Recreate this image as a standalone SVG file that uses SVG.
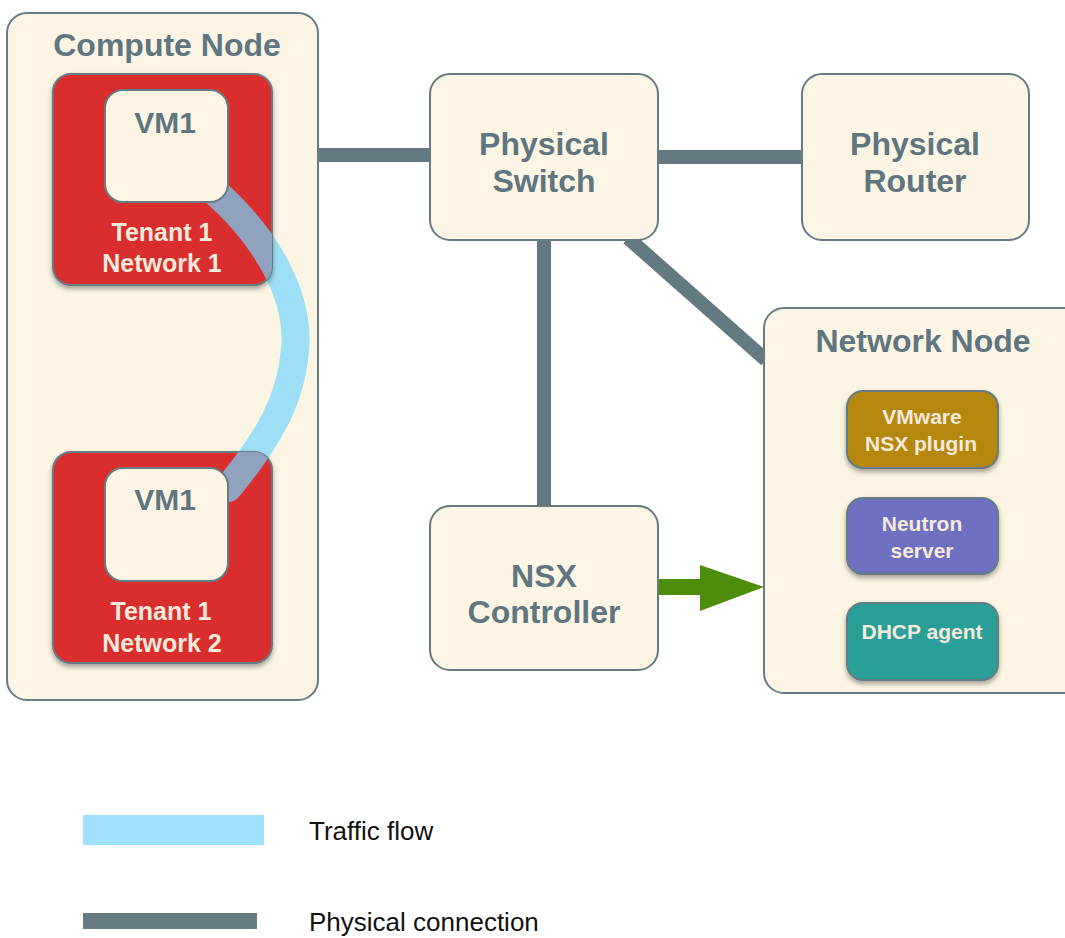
<svg xmlns="http://www.w3.org/2000/svg" width="1065" height="938" viewBox="0 0 1065 938">
<style>
.node{fill:#fcf5e3;stroke:#667c85;stroke-width:2}
.title{font-family:"Liberation Sans",Arial,sans-serif;font-weight:bold;fill:#5e7681;text-anchor:middle}
.light{font-family:"Liberation Sans",Arial,sans-serif;font-weight:bold;fill:#f5eadb;text-anchor:middle}
.phys{stroke:#637a82;stroke-width:14;fill:none}
.legend{font-family:"Liberation Sans",Arial,sans-serif;font-size:26px;fill:#111}
</style>
<defs>
<filter id="sh" x="-20%" y="-20%" width="140%" height="140%">
<feDropShadow dx="0" dy="3" stdDeviation="2.5" flood-color="#000" flood-opacity="0.35"/>
</filter>
<clipPath id="redclip">
<rect x="53" y="74" width="219" height="211" rx="18"/>
<rect x="53" y="452" width="219" height="211" rx="18"/>
</clipPath>
</defs>
<g id="connectors">
<line class="phys" x1="318" y1="155" x2="431" y2="155"/>
<line class="phys" x1="657" y1="157" x2="803" y2="157"/>
<line class="phys" x1="544" y1="239" x2="544" y2="507"/>
<line class="phys" x1="628" y1="238" x2="766" y2="360"/>
<g id="arrow">
<rect x="658" y="579" width="44" height="16" fill="#4e8c0c"/>
<polygon points="700,565 764,587 700,611" fill="#4e8c0c"/>
</g>
</g>
<g id="compute-node">
<rect class="node" x="7" y="13" width="311" height="687" rx="20"/>
<text class="title" x="167" y="56" font-size="32">Compute Node</text>
</g>
<g id="traffic-flow-under">
<path d="M213,190 C270,240 300,300 295,350 C291,400 268,440 228,488" stroke="#9ddff6" stroke-width="28" fill="none" stroke-linecap="round"/>
</g>
<g id="tenant1-network1">
<rect x="53" y="74" width="219" height="211" rx="18" fill="#da2f2f" stroke="#667c85" stroke-width="2" filter="url(#sh)"/>
<text class="light" x="162" y="241" font-size="25">Tenant 1</text>
<text class="light" x="162" y="272" font-size="25">Network 1</text>
</g>
<g id="tenant1-network2">
<rect x="53" y="452" width="219" height="211" rx="18" fill="#da2f2f" stroke="#667c85" stroke-width="2" filter="url(#sh)"/>
<text class="light" x="161" y="620" font-size="25">Tenant 1</text>
<text class="light" x="162" y="652" font-size="25">Network 2</text>
</g>
<g id="traffic-flow-over" clip-path="url(#redclip)">
<path d="M213,190 C270,240 300,300 295,350 C291,400 268,440 228,488" stroke="#8fa3bf" stroke-width="28" fill="none" stroke-linecap="round"/>
</g>
<g id="vm1-top">
<rect class="node" x="105" y="90" width="123" height="112" rx="18"/>
<text class="title" x="165" y="133" font-size="30">VM1</text>
</g>
<g id="vm1-bottom">
<rect class="node" x="105" y="468" width="123" height="113" rx="18"/>
<text class="title" x="165" y="510" font-size="30">VM1</text>
</g>
<g id="physical-switch">
<rect class="node" x="430" y="74" width="228" height="166" rx="20"/>
<text class="title" x="544" y="155" font-size="32">Physical</text>
<text class="title" x="544" y="192" font-size="32">Switch</text>
</g>
<g id="physical-router">
<rect class="node" x="802" y="74" width="227" height="166" rx="20"/>
<text class="title" x="915" y="155" font-size="32">Physical</text>
<text class="title" x="915" y="192" font-size="32">Router</text>
</g>
<g id="nsx-controller">
<rect class="node" x="430" y="506" width="228" height="164" rx="20"/>
<text class="title" x="544" y="587" font-size="32">NSX</text>
<text class="title" x="544" y="623" font-size="32">Controller</text>
</g>
<g id="network-node">
<rect class="node" x="764" y="308" width="320" height="385" rx="20"/>
<text class="title" x="923" y="352" font-size="32">Network Node</text>
</g>
<g id="vmware-nsx-plugin">
<rect x="847" y="391" width="151" height="77" rx="16" fill="#b5870a" stroke="#667c85" stroke-width="2" filter="url(#sh)"/>
<text class="light" x="922" y="424" font-size="21">VMware</text>
<text class="light" x="921" y="451" font-size="21">NSX plugin</text>
</g>
<g id="neutron-server">
<rect x="847" y="498" width="151" height="76" rx="16" fill="#6e70c2" stroke="#667c85" stroke-width="2" filter="url(#sh)"/>
<text class="light" x="922" y="531" font-size="21">Neutron</text>
<text class="light" x="922" y="558" font-size="21">server</text>
</g>
<g id="dhcp-agent">
<rect x="847" y="603" width="151" height="77" rx="16" fill="#2a9f97" stroke="#667c85" stroke-width="2" filter="url(#sh)"/>
<text class="light" x="922" y="639" font-size="21">DHCP agent</text>
</g>
<g id="legend">
<rect x="83" y="815" width="181" height="30" fill="#9fe1fd"/>
<text class="legend" x="309" y="840">Traffic flow</text>
<rect x="83" y="913" width="174" height="16" fill="#667b82"/>
<text class="legend" x="309" y="931">Physical connection</text>
</g>
</svg>
